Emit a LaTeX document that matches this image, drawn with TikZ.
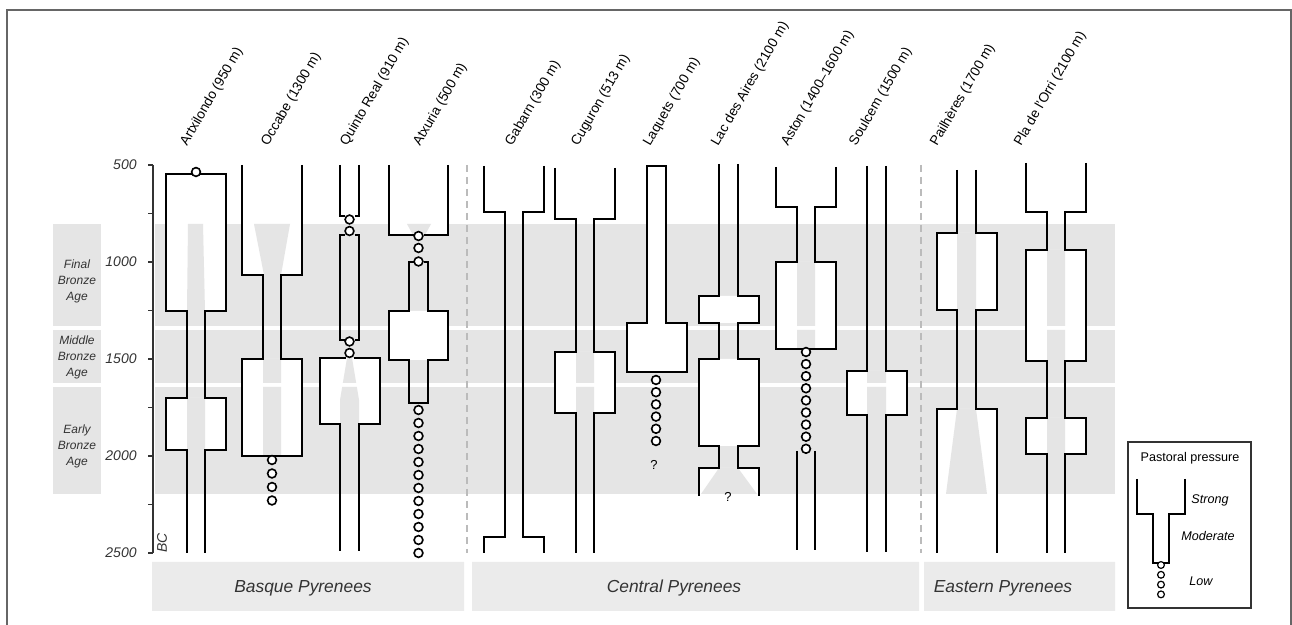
\documentclass[tikz,border=0pt]{standalone}
\usepackage{fontspec}
\setmainfont{Liberation Sans}
\definecolor{bandgrey}{HTML}{E5E5E5}
\definecolor{regiongrey}{HTML}{EBEBEB}
\definecolor{sepgrey}{HTML}{BBBBBB}
\definecolor{textgrey}{HTML}{333333}

\begin{document}
\begin{tikzpicture}
  [x=0.5pt,y=-0.5pt,
   prof/.style={line width=1pt,line join=miter},
   low/.style={line width=0.8pt,fill=white},
   axis/.style={line width=0.8pt,textgrey},
   site/.style={rotate=60,anchor=base west,inner sep=0pt,font=\fontsize{6.8}{8}\selectfont},
   yr/.style={anchor=east,inner sep=0pt,textgrey,font=\fontsize{7}{8}\selectfont\itshape},
   age/.style={align=center,inner sep=0pt,textgrey,font=\fontsize{6}{8}\selectfont\itshape},
   region/.style={inner sep=0pt,textgrey,font=\fontsize{8.7}{10}\selectfont\itshape},
   sep/.style={sepgrey,line width=1.2pt,dash pattern=on 3.5pt off 2.5pt},
   legtext/.style={inner sep=0pt,font=\fontsize{6.3}{8}\selectfont\itshape}]

  \useasboundingbox (0,0) rectangle (1292,625);
  \draw[line width=1pt,black!60] (6.5,625) -- (6.5,10) -- (1290.5,10) -- (1290.5,625);

  % periods
  \foreach \ya/\yb in {224/326,330/383,387/494} {
    \fill[bandgrey] (155,\ya) rectangle (1115,\yb);
    \fill[bandgrey] (53,\ya) rectangle (101,\yb);
  }
  \node[age] (final)  at (77,281) {Final\\Bronze\\Age};
  \node[age] (middle) at (77,357) {Middle\\Bronze\\Age};
  \node[age] (early)  at (77,446) {Early\\Bronze\\Age};

  % regions
  \fill[regiongrey] (152,562) rectangle (464,611) (472,562) rectangle (919,611) (924,562) rectangle (1115,611);
  \node[region] (basque)  at (303,588) {Basque Pyrenees};
  \node[region] (central) at (674,588) {Central Pyrenees};
  \node[region] (eastern) at (1003,588) {Eastern Pyrenees};

  \draw[sep] (467,165) -- (467,553);
  \draw[sep] (921,165) -- (921,553);

  % time axis
  \draw[axis] (153,165) -- (153,553);
  \foreach \y in {165,213.5,262,310.5,359,407.5,456,504.5,553}
    \draw[axis] (148,\y) -- (153,\y);
  \foreach \y/\v in {165/500,262/1000,359/1500,456/2000,553/2500}
    \node[yr] (yr\v) at (137,\y) {\v};
  \node[yr,rotate=90,anchor=center] (bc) at (162,543) {BC};

  % sites
  \foreach \x/\txt [count=\i] in {187/Artxilondo (950 m),268/Occabe (1300 m),347/Quinto Real (910 m),
      420/Atxuria (500 m),512/Gabarn (300 m),578/Cuguron (513 m),650/Laquets (700 m),
      718/Lac des Aires (2100 m),788/Aston (1400--1600 m),856/Soulcem (1500 m),
      937/Pailhères (1700 m),1021/Pla de l'Orri (2100 m)}
    \node[site] (site\i) at (\x,147) {\txt};

  % white insides of the strong phases
  \fill[white] (166,174) rectangle (226,311) (166,398) rectangle (226,450)
    (242,165) rectangle (302,275) (242,359) rectangle (302,456)
    (319,358) rectangle (379,424)
    (389,165) rectangle (448,235) (389,311) rectangle (448,360)
    (555,352) rectangle (615,413)
    (647,166) rectangle (666,323) (626,323) rectangle (686,372)
    (699,296) rectangle (759,323) (699,359) rectangle (759,446) (699,468) rectangle (759,496)
    (776,262) rectangle (836,349)
    (847,371) rectangle (907,415)
    (937,233) rectangle (997,310) (937,409) rectangle (997,553)
    (1026,250) rectangle (1086,361) (1026,418) rectangle (1086,454);

  % grey wedges seen through the profiles
  \begin{scope}
    \clip (155,224) rectangle (1115,326) (155,330) rectangle (1115,383) (155,387) rectangle (1115,494);
    \fill[bandgrey] (188,224) -- (203,224) -- (205,311) -- (187,311) -- cycle
      (187,398) rectangle (205,450)
      (254,224) -- (290,224) -- (281,275) -- (264,275) -- cycle
      (263,359) rectangle (281,456)
      (347,358) -- (352,358) -- (359,400) -- (359,424) -- (340,424) -- (340,400) -- cycle
      (407,224) -- (431,224) -- (425,235) -- (413,235) -- cycle
      (576,352) rectangle (594,413)
      (719,468) -- (738,468) -- (757,494) -- (701,494) -- cycle
      (797,262) rectangle (815,349)
      (867,371) rectangle (886,415)
      (957,233) rectangle (976,310)
      (957,409) -- (976,409) -- (987,494) -- (946,494) -- cycle
      (1047,250) rectangle (1065,361) (1047,418) rectangle (1065,454);
  \end{scope}

  % profiles (left and right halves)
  \foreach \side in {-1,1} {
    % Artxilondo
    \draw[prof] (196,174) -- (196+30*\side,174) -- (196+30*\side,311) -- (196+9*\side,311) -- (196+9*\side,398)
      -- (196+30*\side,398) -- (196+30*\side,450) -- (196+9*\side,450) -- (196+9*\side,553);
    % Occabe
    \draw[prof] (272+30*\side,165) -- (272+30*\side,275) -- (272+9*\side,275) -- (272+9*\side,359)
      -- (272+30*\side,359) -- (272+30*\side,456) -- (272,456);
    % Quinto Real
    \draw[prof] (349.5+9.5*\side,165) -- (349.5+9.5*\side,216) -- (349.5+5*\side,216);
    \draw[prof] (349.5+5*\side,235) -- (349.5+9.5*\side,235) -- (349.5+9.5*\side,340) -- (349.5+5*\side,340);
    \draw[prof] (349.5+4*\side,358) -- (349.5+30*\side,358) -- (349.5+30*\side,424) -- (349.5+9.5*\side,424)
      -- (349.5+9.5*\side,551);
    % Atxuria
    \draw[prof] (418.5+29.5*\side,165) -- (418.5+29.5*\side,235) -- (418.5+5*\side,235);
    \draw[prof] (418.5+5*\side,262) -- (418.5+9.5*\side,262) -- (418.5+9.5*\side,311) -- (418.5+29.5*\side,311)
      -- (418.5+29.5*\side,360) -- (418.5+9.5*\side,360) -- (418.5+9.5*\side,403) -- (418.5,403);
    % Gabarn
    \draw[prof] (514+30*\side,166) -- (514+30*\side,212) -- (514+9*\side,212) -- (514+9*\side,537)
      -- (514+30*\side,537) -- (514+30*\side,553);
    % Cuguron
    \draw[prof] (585+30*\side,168) -- (585+30*\side,219) -- (585+9*\side,219) -- (585+9*\side,352)
      -- (585+30*\side,352) -- (585+30*\side,413) -- (585+9*\side,413) -- (585+9*\side,553);
    % Laquets
    \draw[prof] (656.5,166) -- (656.5+9.5*\side,166) -- (656.5+9.5*\side,323) -- (656.5+30*\side,323)
      -- (656.5+30*\side,372) -- (656.5,372);
    % Lac des Aires
    \draw[prof] (728.5+9.5*\side,164) -- (728.5+9.5*\side,296) -- (728.5+30*\side,296) -- (728.5+30*\side,323)
      -- (728.5+9.5*\side,323) -- (728.5+9.5*\side,359) -- (728.5+30*\side,359) -- (728.5+30*\side,446)
      -- (728.5+9.5*\side,446) -- (728.5+9.5*\side,468) -- (728.5+30*\side,468) -- (728.5+30*\side,496);
    % Aston
    \draw[prof] (806+30*\side,167) -- (806+30*\side,207) -- (806+9*\side,207) -- (806+9*\side,262)
      -- (806+30*\side,262) -- (806+30*\side,349) -- (806,349);
    \draw[prof] (806+9*\side,451) -- (806+9*\side,550);
    % Soulcem
    \draw[prof] (876.5+9.5*\side,166) -- (876.5+9.5*\side,371) -- (876.5+30*\side,371) -- (876.5+30*\side,415)
      -- (876.5+9.5*\side,415) -- (876.5+9.5*\side,552);
    % Pailheres
    \draw[prof] (966.5+9.5*\side,170) -- (966.5+9.5*\side,233) -- (966.5+30*\side,233) -- (966.5+30*\side,310)
      -- (966.5+9.5*\side,310) -- (966.5+9.5*\side,409) -- (966.5+30*\side,409) -- (966.5+30*\side,553);
    % Pla de l'Orri
    \draw[prof] (1056+30*\side,163) -- (1056+30*\side,212) -- (1056+9*\side,212) -- (1056+9*\side,250)
      -- (1056+30*\side,250) -- (1056+30*\side,361) -- (1056+9*\side,361) -- (1056+9*\side,418)
      -- (1056+30*\side,418) -- (1056+30*\side,454) -- (1056+9*\side,454) -- (1056+9*\side,553);
  }

  % low pressure
  \draw[low] (196,172) circle[radius=2.2pt];
  \foreach \y in {460,473.5,487,500.5} \draw[low] (272,\y) circle[radius=2.2pt];
  \foreach \y in {219.5,231,341.5,353} \draw[low] (349.5,\y) circle[radius=2.2pt];
  \foreach \y in {236,248,261.5} \draw[low] (418.5,\y) circle[radius=2.2pt];
  \foreach \k in {0,...,11} \draw[low] (418.5,410+13*\k) circle[radius=2.2pt];
  \foreach \k in {0,...,5} \draw[low] (656,380+12.2*\k) circle[radius=2.2pt];
  \foreach \k in {0,...,8} \draw[low] (806,352+12.1*\k) circle[radius=2.2pt];
  \node[legtext,font=\fontsize{6.5}{8}\selectfont] (q1) at (654,465) {?};
  \node[legtext,font=\fontsize{6.5}{8}\selectfont] (q2) at (728,497) {?};

  % legend
  \draw[line width=0.6pt,textgrey] (1128,442) rectangle (1251,608);
  \node[legtext,font=\fontsize{6.3}{8}\selectfont] (legtitle) at (1190,458) {Pastoral pressure};
  \foreach \side in {-1,1}
    \draw[line width=0.8pt] (1161+24*\side,479) -- (1161+24*\side,514) -- (1161+8*\side,514) -- (1161+8*\side,563) -- (1161+3*\side,563);
  \foreach \k in {0,...,3} \draw[line width=0.6pt,fill=white] (1161,565+9.8*\k) circle[radius=1.7pt];
  \node[legtext] (strong)   at (1210,500) {Strong};
  \node[legtext] (moderate) at (1208,536) {Moderate};
  \node[legtext] (lowlab)   at (1201,581) {Low};
\end{tikzpicture}
\end{document}
